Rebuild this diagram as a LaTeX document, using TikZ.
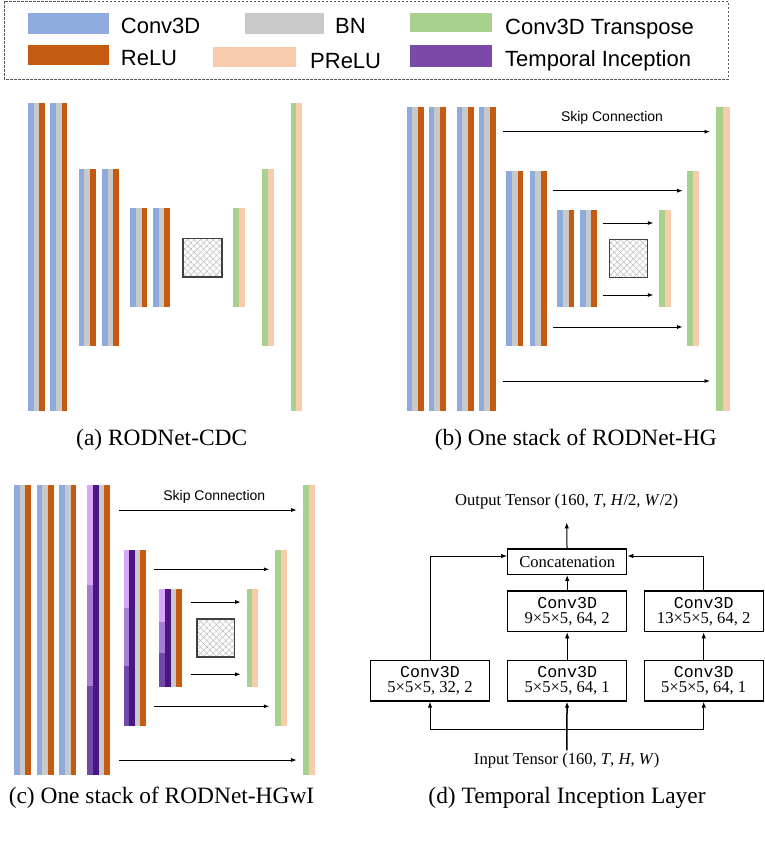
\documentclass[tikz,border=0pt]{standalone}
\usepackage{fontspec}
\setmainfont{Liberation Serif}
\setsansfont{Liberation Sans}
\setmonofont{Liberation Mono}
\usetikzlibrary{arrows.meta,patterns.meta}
\definecolor{convblue}{HTML}{8FAADC}
\definecolor{bngray}{HTML}{C9C9C9}
\definecolor{reluorange}{HTML}{C55A11}
\definecolor{preluorange}{HTML}{F8CBAD}
\definecolor{transgreen}{HTML}{A9D18E}
\definecolor{tipurple}{HTML}{7A49A9}
\definecolor{tidark}{HTML}{4B1682}
\definecolor{tilight}{HTML}{D7A8FA}
\definecolor{timid}{HTML}{A77DD6}
\definecolor{tilow}{HTML}{7148AB}

\newcommand\layer[5][5.6]{\foreach \col [count=\i from 0] in {#5}
  \fill[\col] ({#2+\i*#1},#3) rectangle ({#2+\i*#1+#1},#4);}
\newcommand\conv[3]{\layer{#1}{#2}{#3}{convblue,bngray,reluorange}}
\newcommand\deconv[4][5.6]{\layer[#1]{#2}{#3}{#4}{transgreen,preluorange}}
\newcommand\tinc[6][5.6]{\fill[tilight] (#2,#3) rectangle ({#2+#1},#4);
  \fill[timid] (#2,#4) rectangle ({#2+#1},#5);
  \fill[tilow] (#2,#5) rectangle ({#2+#1},#6);
  \layer[#1]{#2+#1}{#3}{#6}{tidark,bngray,reluorange}}
\newcommand\hatchbox[4]{\fill[pattern={Lines[angle=45,distance=4.5pt,line width=0.5pt]},pattern color=gray!55] (#1,#2) rectangle (#3,#4);
  \fill[pattern={Lines[angle=-45,distance=4.5pt,line width=0.5pt]},pattern color=gray!55] (#1,#2) rectangle (#3,#4);
  \draw[line width=1.2pt,black!75] (#1,#2) rectangle (#3,#4);}

\begin{document}
\begin{tikzpicture}[x=1pt,y=-1pt,
  skip/.style={-{Latex[length=5.5pt,width=4pt]},line width=0.9pt},
  flow/.style={-{Latex[length=6pt,width=4.5pt]},line width=1pt},
  box/.style={draw,line width=1.2pt,minimum width=119pt,minimum height=40.7pt,align=center,inner sep=0pt,font=\fontsize{16.6}{15}\selectfont},
  legtext/.style={font=\sffamily\fontsize{22}{22}\selectfont,anchor=base west,inner sep=0pt},
  skiptext/.style={font=\sffamily\fontsize{14}{14}\selectfont,inner sep=0pt},
  tensor/.style={font=\fontsize{16.6}{18}\selectfont,inner sep=2pt},
  subcap/.style={font=\fontsize{23.4}{24}\selectfont,anchor=base,inner sep=0pt}]
\useasboundingbox (0,0) rectangle (764,841);

\draw[black!65,line width=0.8pt,dash pattern=on 2.5pt off 1.5pt] (4,1) rectangle (728,79);
\fill[convblue] (28.3,12.7) rectangle (109.3,34);
\fill[bngray] (245,12.7) rectangle (324,34);
\fill[transgreen] (410,12.7) rectangle (492.3,32.3);
\fill[reluorange] (28.3,45) rectangle (109.3,65);
\fill[preluorange] (213.3,46.7) rectangle (295.7,66.7);
\fill[tipurple] (410,45) rectangle (492.3,66.7);
\node[legtext] (leg-conv) at (120.7,33.3) {Conv3D};
\node[legtext] (leg-bn) at (335,33.3) {BN};
\node[legtext] (leg-trans) at (505,34.5) {Conv3D Transpose};
\node[legtext] (leg-relu) at (120.7,65) {ReLU};
\node[legtext] (leg-prelu) at (310,68.3) {PReLU};
\node[legtext] (leg-ti) at (505,66.7) {Temporal Inception};

\conv{28}{103.3}{411} \conv{50.3}{103.3}{411}
\conv{78.7}{169}{345.7} \conv{102}{169}{345.7}
\conv{130.3}{208}{306.7} \conv{153}{208}{306.7}
\hatchbox{183}{238.7}{222}{277}
\deconv{233.3}{208}{306.7}
\deconv{262.3}{169}{345.7}
\deconv{290.7}{103.3}{411}
\node[subcap] (cap-a) at (161.7,445.3) {(a) RODNet-CDC};

\conv{406.7}{106.7}{411} \conv{428.7}{106.7}{411}
\conv{456.7}{106.7}{411} \conv{478.7}{106.7}{411}
\conv{506.3}{171}{345.7} \conv{529.7}{171}{345.7}
\conv{557.3}{210.3}{307.3} \conv{580}{210.3}{307.3}
\hatchbox{609.3}{239.7}{647.3}{277.7}
\deconv{659.3}{210.3}{307.3}
\deconv{687.3}{171}{345.7}
\deconv[7]{716}{106.7}{411}
\node[skiptext] (skip-b) at (612,118.3) {Skip Connection};
\foreach \n/\a/\b/\y in {1/502.7/710/131.7,2/553.3/682.7/190.7,3/603.3/653.3/223,
  4/603.3/653.3/295,5/553.3/682.7/327,6/502.7/710/381}{
  \coordinate (b-s\n) at (\a,\y);
  \coordinate (b-e\n) at (\b,\y);
  \draw[skip] (b-s\n) -- (b-e\n);
}
\node[subcap] (cap-b) at (575.8,445.3) {(b) One stack of RODNet-HG};

\conv{14}{485}{775} \conv{36.7}{485}{775} \conv{59.3}{485}{775}
\tinc{87.3}{485}{585}{685.7}{775}
\tinc[5.4]{124}{550.3}{608.3}{665.7}{725.7}
\tinc{159.3}{589}{621.7}{653.3}{686.7}
\hatchbox{197}{619}{234.7}{657}
\deconv{246.7}{589}{686.7}
\deconv[6]{274.7}{550.3}{725.7}
\deconv{303.3}{485}{775}
\node[skiptext] (skip-c) at (214.3,496.7) {Skip Connection};
\foreach \n/\a/\b/\y in {1/119/296.7/510,2/154.3/269.3/569.3,3/190.7/240.7/602,
  4/190.7/240.7/674.3,5/154.3/269.3/706.3,6/119/296.7/760}{
  \coordinate (c-s\n) at (\a,\y);
  \coordinate (c-e\n) at (\b,\y);
  \draw[skip] (c-s\n) -- (c-e\n);
}
\node[subcap] (cap-c) at (161.5,803) {(c) One stack of RODNet-HGwI};

\node[tensor] (out) at (566.7,501.7) {Output Tensor (160, \textit{T}, \textit{H}/2, \textit{W}/2)};
\node[box,minimum height=25.3pt] (cat) at (567.2,561.7) {Concatenation};
\node[box] (k9) at (567.2,611.3) {\texttt{Conv3D}\\9×5×5, 64, 2};
\node[box] (k13) at (703.7,611.3) {\texttt{Conv3D}\\13×5×5, 64, 2};
\node[box] (k5a) at (430,680.7) {\texttt{Conv3D}\\5×5×5, 32, 2};
\node[box] (k5b) at (567.2,680.7) {\texttt{Conv3D}\\5×5×5, 64, 1};
\node[box] (k5c) at (703.7,680.7) {\texttt{Conv3D}\\5×5×5, 64, 1};
\node[tensor] (in) at (566.7,760) {Input Tensor (160, \textit{T}, \textit{H}, \textit{W})};
\coordinate (bus-l) at (430,729.3);
\coordinate (bus-r) at (703.7,729.3);
\draw[flow] (cat) -- ([yshift=-11pt]out.south);
\draw[flow] (k9) -- (cat);
\draw[flow] (k5b) -- (k9);
\draw[flow] (k5c) -- (k13);
\draw[flow] (k5a.north) |- ([yshift=5.7pt]cat.west);
\draw[flow] (k13.north) |- ([yshift=5.7pt]cat.east);
\draw[line width=1pt] (bus-l) -- (bus-r);
\draw[flow] (bus-l) -- (k5a);
\draw[flow] (bus-r) -- (k5c);
\draw[flow,line width=1.5pt] (in) -- (k5b);
\node[subcap] (cap-d) at (567,803) {(d) Temporal Inception Layer};
\end{tikzpicture}
\end{document}
